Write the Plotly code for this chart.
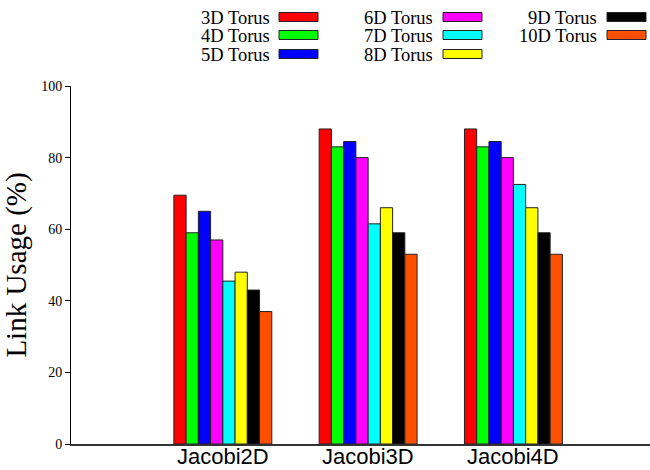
import plotly.graph_objects as go

# Benchmarks on the x axis
benchmarks = ["Jacobi2D", "Jacobi3D", "Jacobi4D"]

# Link usage (%) per torus dimensionality, one value per benchmark
series_names = ["3D Torus", "4D Torus", "5D Torus", "6D Torus",
                "7D Torus", "8D Torus", "9D Torus", "10D Torus"]
torus_3d = [69.5, 88.0, 88.0]
torus_4d = [59.0, 83.0, 83.0]
torus_5d = [65.0, 84.5, 84.5]
torus_6d = [57.0, 80.0, 80.0]
torus_7d = [45.5, 61.5, 72.5]
torus_8d = [48.0, 66.0, 66.0]
torus_9d = [43.0, 59.0, 59.0]
torus_10d = [37.0, 53.0, 53.0]
series_values = [torus_3d, torus_4d, torus_5d, torus_6d,
                 torus_7d, torus_8d, torus_9d, torus_10d]

colors = ["#ff0000", "#00ff00", "#0000ff", "#ff00ff",
          "#00ffff", "#ffff00", "#000000", "#ff4f00"]

W, H = 650, 470
ML, MR, MT, MB = 71, 0, 86, 26
PW, PH = W - ML - MR, H - MT - MB

x_pos = [i + 1 for i in range(len(benchmarks))]

fig = go.Figure()
for name, vals, col in zip(series_names, series_values, colors):
    fig.add_trace(go.Bar(
        x=x_pos, y=vals, name=name, showlegend=False,
        marker=dict(color=col, line=dict(color="#222222", width=1)),
    ))


def px_x(px):
    return (px - ML) / PW


def px_y(py):
    return (H - MB - py) / PH


# Gnuplot-style key: right-aligned label followed by a colour swatch
shapes = []
annotations = []
col_text_right = [271, 434, 598]
col_swatch_left = [279, 443, 607]
row_centers = [17, 35, 54]
for i, (name, col) in enumerate(zip(series_names, colors)):
    c, r = divmod(i, 3)
    yc = row_centers[r]
    annotations.append(dict(
        x=px_x(col_text_right[c]), y=px_y(yc), xref="paper", yref="paper",
        text=name, showarrow=False, xanchor="right", yanchor="middle",
        borderpad=0, height=17,
        font=dict(family="Liberation Serif", size=18.5, color="#000000"),
    ))
    shapes.append(dict(
        type="rect", xref="paper", yref="paper",
        x0=px_x(col_swatch_left[c]), x1=px_x(col_swatch_left[c] + 39),
        y0=px_y(yc + 4.5), y1=px_y(yc - 4.5),
        fillcolor=col, line=dict(color="#222222", width=1),
    ))

# Category labels placed just under the x axis
for xv, label in zip(x_pos, benchmarks):
    annotations.append(dict(
        x=xv, y=px_y(456), xref="x", yref="paper", text=label,
        showarrow=False, xanchor="center", yanchor="middle",
        borderpad=0, height=20,
        font=dict(family="Liberation Sans", size=22, color="#000000"),
    ))

fig.update_layout(
    width=W, height=H,
    margin=dict(l=ML, r=MR, t=MT, b=MB),
    paper_bgcolor="#ffffff", plot_bgcolor="#ffffff",
    barmode="group", bargap=0.326, bargroupgap=0.0,
    shapes=shapes, annotations=annotations,
    xaxis=dict(
        range=[-0.045, 3.94], tickmode="array", tickvals=x_pos,
        showticklabels=False, showgrid=False, zeroline=False, automargin=False,
        showline=True, linecolor="#333333", linewidth=1.5, ticks="",
    ),
    yaxis=dict(
        range=[0, 100], tickmode="array", tickvals=[0, 20, 40, 60, 80, 100],
        showgrid=False, zeroline=False, showline=True, linecolor="#000000",
        linewidth=1, ticks="outside", ticklen=5, tickcolor="#000000",
        automargin=False,
        tickfont=dict(family="Liberation Serif", size=14, color="#000000"),
        title=dict(text="Link Usage (%)", standoff=18,
                   font=dict(family="Liberation Serif", size=29, color="#000000")),
    ),
)

fig.write_html("out.html")
